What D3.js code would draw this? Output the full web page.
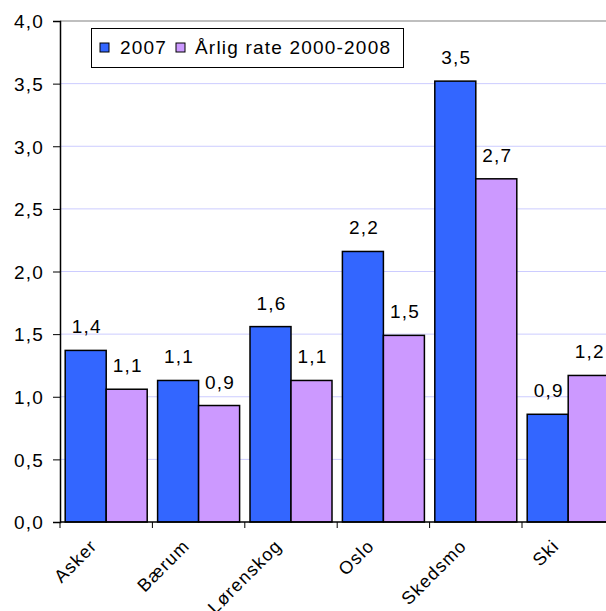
<!DOCTYPE html>
<html>
<head>
<meta charset="utf-8">
<script src="https://cdn.jsdelivr.net/npm/d3@7"></script>
<style>
  html, body { margin: 0; padding: 0; background: #fff; }
  svg { display: block; }
  text { font-family: "Liberation Sans", Arial, sans-serif; font-size: 19px; letter-spacing: 1.2px; fill: #000; }
  text.xl { font-size: 18px; }
</style>
</head>
<body>
<svg id="chart" width="606" height="611"></svg>
<script>
const categories = ["Asker", "Bærum", "Lørenskog", "Oslo", "Skedsmo", "Ski"];
const seriesNames = ["2007", "Årlig rate 2000-2008"];
const values2007 = [1.37, 1.13, 1.56, 2.16, 3.52, 0.86];
const valuesRate = [1.06, 0.93, 1.13, 1.49, 2.74, 1.17];
const yTicks = [0, 0.5, 1, 1.5, 2, 2.5, 3, 3.5, 4];
const colors = ["#3366FF", "#CC99FF"];

const svg = d3.select("#chart");
const plotLeft = 60, plotRight = 614.4, plotTop = 21, plotBottom = 522;

const y = d3.scaleLinear().domain([0, 4]).range([plotBottom, plotTop]);
const x0 = d3.scaleBand().domain(categories).range([plotLeft, plotRight]).padding(0);
const step = x0.step();
const gap = 5.2;
const x1 = d3.scaleBand().domain(seriesNames).range([gap, step - gap]).padding(0);

const fmt = v => v.toFixed(1).replace(".", ",");

// gridlines
svg.append("g").selectAll("line").data(yTicks.filter(t => t > 0 && t < 4)).join("line")
  .attr("x1", plotLeft).attr("x2", 606)
  .attr("y1", d => y(d)).attr("y2", d => y(d))
  .attr("stroke", "#ccccff").attr("stroke-width", 1);
// top border
svg.append("line").attr("x1", plotLeft).attr("x2", 606).attr("y1", y(4)).attr("y2", y(4))
  .attr("stroke", "#808080").attr("stroke-width", 1.2);

// bars
const data = categories.map((c, i) => ({ cat: c, vals: [values2007[i], valuesRate[i]] }));
const groups = svg.append("g").selectAll("g").data(data).join("g")
  .attr("transform", d => `translate(${x0(d.cat)},0)`);
groups.selectAll("rect").data(d => d.vals.map((v, j) => ({ v, s: seriesNames[j], j }))).join("rect")
  .attr("x", d => x1(d.s))
  .attr("y", d => y(d.v))
  .attr("width", x1.bandwidth())
  .attr("height", d => y(0) - y(d.v))
  .attr("fill", d => colors[d.j])
  .attr("stroke", "#000").attr("stroke-width", 1.5);
groups.selectAll("text").data(d => d.vals.map((v, j) => ({ v, s: seriesNames[j], j }))).join("text")
  .attr("x", d => x1(d.s) + x1.bandwidth() / 2 + 1)
  .attr("y", d => y(d.v) - 17)
  .attr("text-anchor", "middle")
  .text(d => fmt(d.v));

// y axis
const yAxis = d3.axisLeft(y).tickValues(yTicks).tickSize(7).tickPadding(9).tickFormat(fmt);
const ya = svg.append("g").attr("transform", `translate(${plotLeft},0)`).call(yAxis);
ya.attr("font-size", null).attr("font-family", null);
ya.select(".domain").attr("stroke", "#000").attr("stroke-width", 1.5);
ya.selectAll(".tick line").attr("stroke", "#000");
ya.selectAll(".tick text").attr("dy", "0.36em");

// x axis
svg.append("line").attr("x1", plotLeft).attr("x2", 606).attr("y1", plotBottom).attr("y2", plotBottom)
  .attr("stroke", "#000").attr("stroke-width", 1.5);
svg.append("g").selectAll("line").data(categories).join("line")
  .attr("x1", d => x0(d)).attr("x2", d => x0(d))
  .attr("y1", plotBottom).attr("y2", plotBottom + 6)
  .attr("stroke", "#000");
svg.append("g").selectAll("text").data(categories).join("text")
  .attr("class", "xl")
  .attr("transform", d => `translate(${x0(d) + step / 2 - 8},${547}) rotate(-45)`)
  .attr("text-anchor", "end")
  .text(d => d);

// legend
const lg = svg.append("g");
lg.append("rect").attr("x", 91.5).attr("y", 28.5).attr("width", 312).attr("height", 39)
  .attr("fill", "#fff").attr("stroke", "#000").attr("stroke-width", 1);
const legX = [100, 176];
const legTX = [120, 195];
seriesNames.forEach((s, i) => {
  lg.append("rect").attr("x", legX[i]).attr("y", 43).attr("width", 9).attr("height", 9)
    .attr("fill", colors[i]).attr("stroke", "#000").attr("stroke-width", 1);
  lg.append("text").attr("x", legTX[i]).attr("y", 54).text(s);
});
</script>
</body>
</html>
